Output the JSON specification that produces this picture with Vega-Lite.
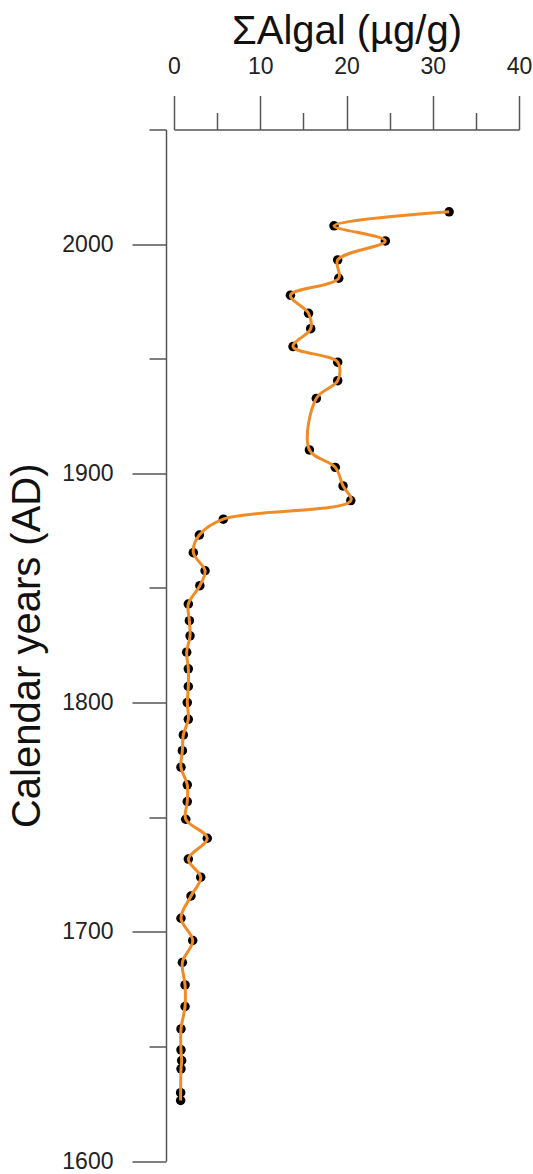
{
  "$schema": "https://vega.github.io/schema/vega-lite/v6.json",
  "width": 345,
  "height": 1031.5,
  "autosize": {"type": "none"},
  "padding": {"left": 174, "top": 129.5, "right": 14, "bottom": 13},
  "background": "white",
  "config": {"view": {"stroke": null}, "font": "Liberation Sans"},
  "data": {
    "values": [
      {"year": 2014.1, "algal": 31.9},
      {"year": 2008.0, "algal": 18.55},
      {"year": 2001.4, "algal": 24.5},
      {"year": 1993.1, "algal": 18.98},
      {"year": 1985.1, "algal": 19.1},
      {"year": 1977.7, "algal": 13.5},
      {"year": 1969.8, "algal": 15.6},
      {"year": 1963.1, "algal": 15.85},
      {"year": 1955.3, "algal": 13.8},
      {"year": 1948.5, "algal": 18.98},
      {"year": 1940.4, "algal": 18.98},
      {"year": 1932.7, "algal": 16.5},
      {"year": 1910.2, "algal": 15.7},
      {"year": 1902.6, "algal": 18.7},
      {"year": 1894.5, "algal": 19.6},
      {"year": 1888.1, "algal": 20.5},
      {"year": 1880.0, "algal": 5.72},
      {"year": 1873.1, "algal": 2.94},
      {"year": 1865.4, "algal": 2.24},
      {"year": 1857.5, "algal": 3.6},
      {"year": 1851.0, "algal": 3.0},
      {"year": 1843.0, "algal": 1.66},
      {"year": 1835.7, "algal": 1.78},
      {"year": 1829.1, "algal": 1.86},
      {"year": 1822.0, "algal": 1.47},
      {"year": 1814.7, "algal": 1.66},
      {"year": 1807.0, "algal": 1.66},
      {"year": 1800.0, "algal": 1.54},
      {"year": 1792.7, "algal": 1.66},
      {"year": 1785.9, "algal": 1.08},
      {"year": 1779.0, "algal": 0.97},
      {"year": 1771.8, "algal": 0.81},
      {"year": 1764.1, "algal": 1.54},
      {"year": 1756.8, "algal": 1.54},
      {"year": 1749.1, "algal": 1.36},
      {"year": 1740.8, "algal": 3.86},
      {"year": 1731.7, "algal": 1.66},
      {"year": 1723.8, "algal": 3.1},
      {"year": 1715.6, "algal": 1.97},
      {"year": 1705.9, "algal": 0.81},
      {"year": 1696.2, "algal": 2.17},
      {"year": 1686.6, "algal": 0.97},
      {"year": 1676.8, "algal": 1.28},
      {"year": 1667.4, "algal": 1.28},
      {"year": 1657.6, "algal": 0.81},
      {"year": 1648.5, "algal": 0.81},
      {"year": 1643.8, "algal": 0.89},
      {"year": 1640.2, "algal": 0.81},
      {"year": 1629.8, "algal": 0.77},
      {"year": 1626.4, "algal": 0.77}
    ]
  },
  "encoding": {
    "x": {
      "field": "algal",
      "type": "quantitative",
      "scale": {"domain": [0, 40], "nice": false},
      "axis": {
        "orient": "top",
        "title": "ΣAlgal (µg/g)",
        "values": [0, 5, 10, 15, 20, 25, 30, 35, 40],
        "labelExpr": "datum.value % 10 === 0 ? datum.label : ''",
        "tickSize": {"condition": {"test": "datum.value % 10 === 0", "value": 34}, "value": 17},
        "grid": false,
        "domainColor": "#555",
        "tickColor": "#555",
        "domainWidth": 1.5,
        "tickWidth": 1.5,
        "labelFontSize": 23,
        "labelColor": "#222",
        "labelPadding": 17,
        "labelFlush": false,
        "labelOverlap": false,
        "titleFontSize": 40,
        "titleFontWeight": "normal",
        "titleColor": "#111",
        "titlePadding": 4
      }
    },
    "y": {
      "field": "year",
      "type": "quantitative",
      "scale": {"domain": [1600, 2050], "nice": false, "zero": false},
      "axis": {
        "title": "Calendar years (AD)",
        "offset": 8,
        "values": [1600, 1650, 1700, 1750, 1800, 1850, 1900, 1950, 2000, 2050],
        "format": "d",
        "labelExpr": "datum.value % 100 === 0 ? datum.label : ''",
        "tickSize": {"condition": {"test": "datum.value % 100 === 0", "value": 34}, "value": 17},
        "grid": false,
        "domainColor": "#555",
        "tickColor": "#555",
        "domainWidth": 1.5,
        "tickWidth": 1.5,
        "labelFontSize": 23,
        "labelColor": "#222",
        "labelPadding": 19,
        "labelFlush": false,
        "labelOverlap": false,
        "titleFontSize": 40,
        "titleFontWeight": "normal",
        "titleColor": "#111",
        "titlePadding": 14
      }
    }
  },
  "layer": [
    {
      "mark": {"type": "point", "filled": true, "shape": "circle", "size": 90, "color": "black", "opacity": 1}
    },
    {
      "mark": {"type": "line", "interpolate": "catmull-rom", "color": "#F08C28", "strokeWidth": 3},
      "encoding": {"order": {"field": "year", "type": "quantitative"}}
    }
  ]
}
